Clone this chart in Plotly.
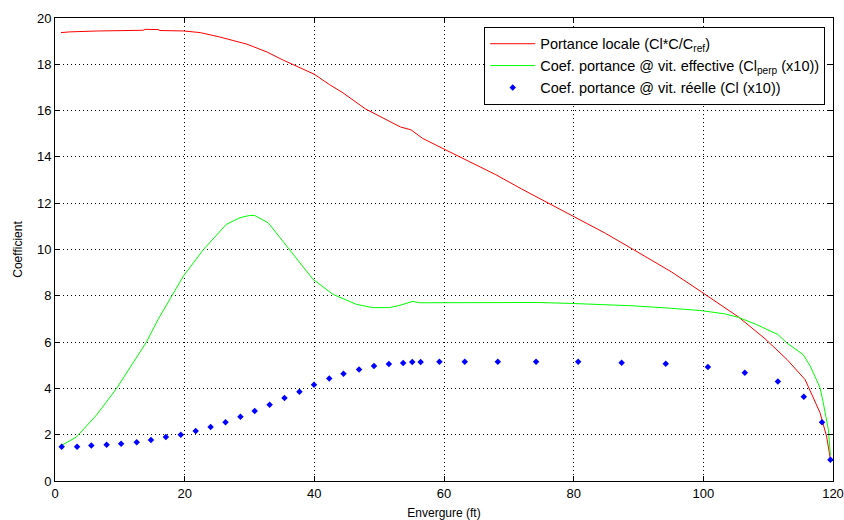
import plotly.graph_objects as go

# Red: Portance locale
red_x = [0.93, 2.3, 6.7, 13.6, 13.9, 15.9, 16.2, 19.8, 22.4, 25.4, 29.6, 32.7, 35.2, 37.7, 40.0,
         42.3, 44.4, 47.9, 50.5, 53.3, 54.9, 56.7, 59.7, 63.3, 68.0, 72.0, 74.6, 79.7, 84.9, 89.2,
         95.1, 99.7, 105.4, 109.5, 110.8, 112.9, 115.7, 118.0, 119.0, 119.6]
red_y = [19.37, 19.40, 19.44, 19.47, 19.51, 19.50, 19.46, 19.44, 19.37, 19.18, 18.87, 18.53, 18.18,
         17.86, 17.57, 17.13, 16.77, 16.07, 15.68, 15.29, 15.17, 14.80, 14.38, 13.88, 13.23, 12.61,
         12.22, 11.49, 10.70, 10.00, 9.03, 8.17, 7.09, 6.15, 5.82, 5.25, 4.38, 2.95, 1.94, 0.94]

# Green: Cl perp (x10)
green_x = [0.9, 3.3, 6.4, 9.5, 14.1, 15.9, 19.8, 22.9, 26.4, 28.5, 30.0, 30.8, 32.9, 36.2, 39.8,
           42.9, 46.5, 49.0, 51.6, 53.2, 55.2, 56.2, 59.3, 67.0, 74.6, 79.7, 83.8, 89.0, 95.1, 99.7,
           103.3, 105.4, 108.0, 110.0, 111.5, 112.9, 115.4, 116.5, 118.0, 118.5, 119.3, 119.6]
green_y = [1.52, 1.90, 2.85, 4.00, 6.00, 6.98, 8.85, 10.00, 11.08, 11.37, 11.47, 11.47, 11.15, 10.00,
           8.71, 8.06, 7.63, 7.49, 7.49, 7.59, 7.76, 7.70, 7.70, 7.72, 7.71, 7.67, 7.64, 7.57, 7.46,
           7.36, 7.22, 7.07, 6.78, 6.52, 6.33, 5.96, 5.46, 4.96, 4.03, 3.38, 2.20, 1.10]

# Blue: Cl (x10)
blue_x = [1.03, 3.4, 5.6, 7.96, 10.2, 12.6, 14.8, 17.1, 19.4, 21.7, 24.0, 26.3, 28.6, 30.8, 33.1,
          35.4, 37.7, 39.95, 42.3, 44.5, 46.9, 49.2, 51.5, 53.7, 55.1, 56.4, 59.3, 63.2, 68.3, 74.2,
          80.7, 87.4, 94.2, 100.7, 106.4, 111.5, 115.5, 118.3, 119.6]
blue_y = [1.48, 1.48, 1.53, 1.57, 1.61, 1.67, 1.77, 1.90, 2.00, 2.16, 2.33, 2.54, 2.77, 3.02, 3.29,
          3.58, 3.85, 4.16, 4.43, 4.63, 4.82, 4.97, 5.05, 5.10, 5.14, 5.14, 5.15, 5.15, 5.15, 5.15,
          5.15, 5.11, 5.07, 4.92, 4.68, 4.30, 3.64, 2.54, 0.92]

names = ["Portance locale (Cl*C/C<sub>ref</sub>)",
         "Coef. portance @ vit. effective (Cl<sub>perp</sub> (x10))",
         "Coef. portance @ vit. réelle (Cl (x10))"]

x_ticks = [0, 20, 40, 60, 80, 100, 120]
y_ticks = [0, 2, 4, 6, 8, 10, 12, 14, 16, 18, 20]

fig = go.Figure()
fig.add_trace(go.Scatter(x=red_x, y=red_y, mode="lines", name=names[0],
                         line=dict(color="#FF0000", width=1)))
fig.add_trace(go.Scatter(x=green_x, y=green_y, mode="lines", name=names[1],
                         line=dict(color="#00FF00", width=1)))
fig.add_trace(go.Scatter(x=blue_x, y=blue_y, mode="markers", name=names[2],
                         marker=dict(color="#0000FF", symbol="diamond", size=5)))

axis_common = dict(
    showline=True, linecolor="black", linewidth=1, mirror="ticks",
    ticks="inside", ticklen=5, tickcolor="black",
    showgrid=True, gridcolor="black", griddash="1px,3px", gridwidth=1,
    zeroline=False, tickfont=dict(size=13, color="black"), automargin=False,
)

fig.update_layout(
    width=844, height=520,
    margin=dict(l=55, r=11, t=18, b=39),
    paper_bgcolor="white", plot_bgcolor="white",
    font=dict(family="Liberation Sans, Arial, sans-serif", size=12, color="black"),
    xaxis=dict(range=[0, 120], tickvals=x_ticks, title=dict(text="Envergure (ft)", standoff=9,
               font=dict(size=12)), **axis_common),
    yaxis=dict(range=[0, 20], tickvals=y_ticks, title=dict(text="Coefficient", standoff=11,
               font=dict(size=12)), **axis_common),
    legend=dict(x=0.99, y=0.981, xanchor="right", yanchor="top",
                bgcolor="white", bordercolor="black", borderwidth=1,
                font=dict(size=14.5), itemwidth=45, tracegroupgap=0),
    showlegend=True,
)

fig.write_html("out.html", config={"displayModeBar": False},
               post_script="document.body.style.margin='0';document.body.style.overflow='hidden';")
